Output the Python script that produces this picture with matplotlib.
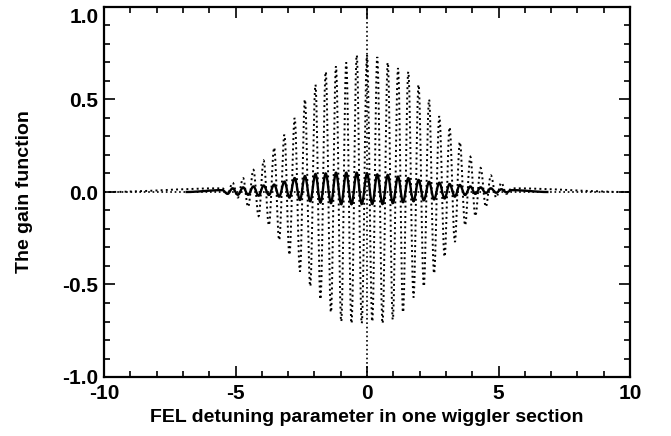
import numpy as np
import matplotlib
matplotlib.use("Agg")
import matplotlib.pyplot as plt
import matplotlib.transforms as mtransforms
from matplotlib.path import Path
from matplotlib.patches import PathPatch
from matplotlib.ticker import MultipleLocator

# Detuning positions of successive maxima / minima of the two gain curves
extrema_x = [-5.50, -5.30, -5.11, -4.91, -4.71, -4.52, -4.32, -4.12, -3.93, -3.73,
             -3.53, -3.34, -3.14, -2.95, -2.75, -2.55, -2.36, -2.16, -1.96, -1.77,
             -1.57, -1.37, -1.18, -0.98, -0.79, -0.59, -0.39, -0.20, 0.00, 0.20,
             0.39, 0.59, 0.79, 0.98, 1.18, 1.37, 1.57, 1.77, 1.96, 2.16,
             2.36, 2.55, 2.75, 2.95, 3.14, 3.34, 3.53, 3.73, 3.93, 4.12,
             4.32, 4.52, 4.71, 4.91, 5.11, 5.30, 5.50]

# Dotted curve: extreme values at those positions
dotted_y = [0.02, -0.01, 0.05, -0.03, 0.075, -0.08, 0.12, -0.13, 0.17, -0.18,
            0.24, -0.26, 0.31, -0.34, 0.40, -0.43, 0.50, -0.51, 0.58, -0.58,
            0.65, -0.65, 0.68, -0.70, 0.70, -0.71, 0.74, -0.71, 0.74, -0.70,
            0.73, -0.71, 0.70, -0.69, 0.67, -0.65, 0.65, -0.57, 0.58, -0.51,
            0.50, -0.44, 0.41, -0.35, 0.35, -0.27, 0.27, -0.18, 0.19, -0.13,
            0.13, -0.08, 0.09, -0.03, 0.05, -0.01, 0.02]

# Solid curve: extreme values at those positions
solid_y = [0.010, -0.010, 0.020, -0.015, 0.025, -0.015, 0.030, -0.020, 0.035, -0.016,
           0.040, -0.025, 0.056, -0.030, 0.075, -0.043, 0.086, -0.050, 0.097, -0.057,
           0.100, -0.060, 0.104, -0.066, 0.104, -0.066, 0.104, -0.065, 0.100, -0.065,
           0.095, -0.065, 0.092, -0.060, 0.083, -0.055, 0.075, -0.050, 0.065, -0.045,
           0.055, -0.040, 0.050, -0.035, 0.043, -0.025, 0.038, -0.016, 0.030, -0.010,
           0.025, -0.006, 0.020, -0.004, 0.015, -0.002, 0.010]

# Flat (zero) extent of each curve outside the oscillating region
dotted_span = (-10.0, 10.0)
solid_span = (-6.9, 6.9)

x_ticks = [-10, -5, 0, 5, 10]
x_tick_labels = ["-10", "-5", "0", "5", "10"]
y_ticks = [-1.0, -0.5, 0.0, 0.5, 1.0]
y_tick_labels = ["-1.0", "-0.5", "0.0", "0.5", "1.0"]


def smooth_wave(xs, ys, span):
    """Cubic Bezier path through the extrema with horizontal tangents."""
    pts = [(span[0], 0.0)] + list(zip(xs, ys)) + [(span[1], 0.0)]
    verts = [pts[0]]
    codes = [Path.MOVETO]
    k = 0.3642
    for (x0, y0), (x1, y1) in zip(pts[:-1], pts[1:]):
        d = x1 - x0
        verts += [(x0 + k * d, y0), (x1 - k * d, y1), (x1, y1)]
        codes += [Path.CURVE4] * 3
    return Path(verts, codes)


plt.rcParams['font.family'] = ['Liberation Sans', 'DejaVu Sans']
plt.rcParams['font.weight'] = 'bold'

W, H = 671, 436
fig = plt.figure(figsize=(W / 100, H / 100), dpi=100)
left, right, top, bottom = 104, 630, 7, 377
ax = fig.add_axes([left / W, 1 - bottom / H, (right - left) / W, (bottom - top) / H])

# Reference lines through the origin
ax.axhline(0, color='black', lw=1.2, ls=':', zorder=1)
ax.axvline(0, color='black', lw=1.2, ls=':', zorder=1)

ax.add_patch(PathPatch(smooth_wave(extrema_x, dotted_y, dotted_span),
                       fill=False, ec='black', lw=1.4, ls=':', zorder=2))
ax.add_patch(PathPatch(smooth_wave(extrema_x, solid_y, solid_span),
                       fill=False, ec='black', lw=1.7, ls='-', zorder=3))

ax.set_xlim(-10, 10)
ax.set_ylim(-1.0, 1.0)
ax.set_xticks(x_ticks, labels=x_tick_labels)
ax.set_yticks(y_ticks, labels=y_tick_labels)
ax.xaxis.set_minor_locator(MultipleLocator(1))
ax.yaxis.set_minor_locator(MultipleLocator(0.1))
ax.tick_params(which='both', direction='in', top=True, right=True,
               width=1.2, labelsize=15)
ax.tick_params(which='major', length=8)
ax.tick_params(which='minor', length=4.5)
ax.tick_params(axis='x', pad=5)
ax.tick_params(axis='y', pad=4)
for s in ax.spines.values():
    s.set_linewidth(1.6)

# keep the topmost y label inside the canvas
for lab in ax.get_yticklabels():
    if lab.get_text() == "1.0":
        lab.set_transform(lab.get_transform() +
                          mtransforms.ScaledTranslation(0, -6 / 72, fig.dpi_scale_trans))

ax.set_xlabel("FEL detuning parameter in one wiggler section", fontsize=14, fontweight='bold')
ax.xaxis.label.set_va('center')
ax.xaxis.set_label_coords(0.5, (bottom - 417) / (bottom - top))
ax.set_ylabel("The gain function", fontsize=14, fontweight='bold')
ax.yaxis.label.set_va('center')
ax.yaxis.set_label_coords((25 - left) / (right - left), 0.5)

fig.savefig("out.png", dpi=100)
